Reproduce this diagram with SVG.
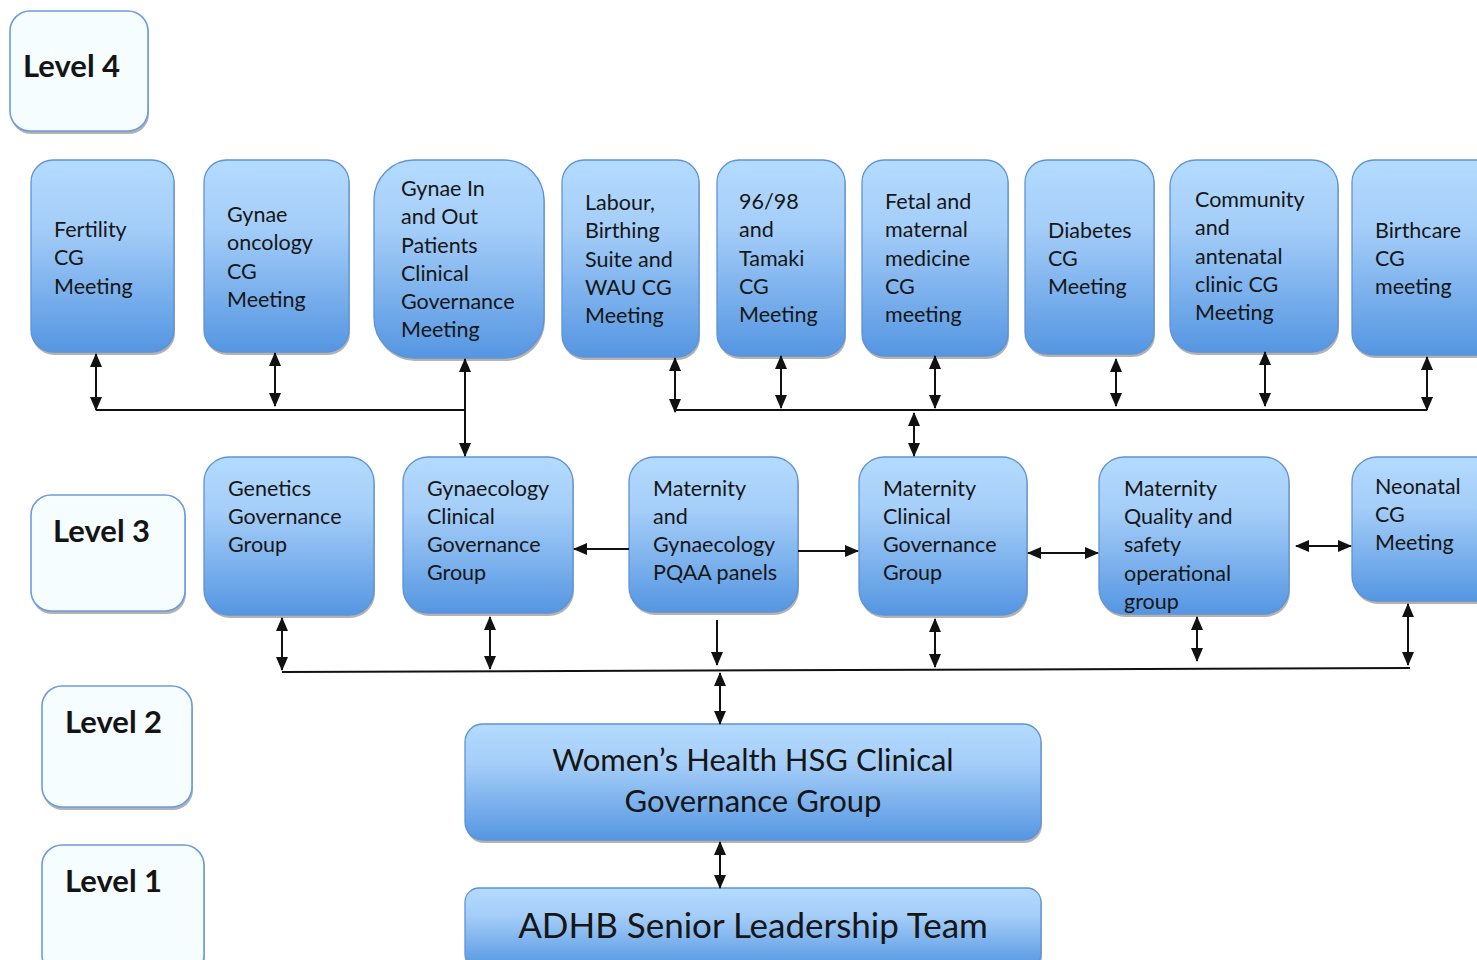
<svg xmlns="http://www.w3.org/2000/svg" width="1477" height="960" viewBox="0 0 1477 960">
  <defs>
    <linearGradient id="boxFill" x1="0" y1="0" x2="0" y2="1">
      <stop offset="0" stop-color="#b4dbff"/>
      <stop offset="0.35" stop-color="#a4cdf8"/>
      <stop offset="1" stop-color="#5596e2"/>
    </linearGradient>
    <marker id="head" viewBox="0 0 14 12" refX="13" refY="6" markerWidth="14" markerHeight="12" markerUnits="userSpaceOnUse" orient="auto-start-reverse">
      <path d="M0,0 L14,6 L0,12 z" fill="#111"/>
    </marker>
    <style>
      .box { fill: url(#boxFill); stroke: #5f93d6; stroke-width: 1.3; }
      .lvl { fill: #f5fdff; stroke: #6d9be0; stroke-width: 1.6; }
      .shadow { fill: #9a9a9a; opacity: 0.75; }
      .t { font-family: Lato, "Liberation Sans", sans-serif; font-size: 21.5px; fill: #161616; }
      .lt { font-family: Lato, "Liberation Sans", sans-serif; font-size: 31px; font-weight: 700; fill: #141414; }
      .big { font-family: Lato, "Liberation Sans", sans-serif; font-size: 31px; fill: #161616; text-anchor: middle; }
      .huge { font-family: Lato, "Liberation Sans", sans-serif; font-size: 35px; fill: #161616; text-anchor: middle; }
      .c { stroke: #111; stroke-width: 2; fill: none; }
      .d { marker-start: url(#head); marker-end: url(#head); }
      .e { marker-end: url(#head); }
    </style>
  </defs>

  <!-- level labels -->
  <g id="level4">
    <rect class="shadow" x="11" y="14" width="138" height="120" rx="20"/>
    <rect class="lvl" x="10" y="11" width="138" height="120" rx="20"/>
    <text class="lt" x="23" y="77">Level 4</text>
  </g>
  <g id="level3">
    <rect class="shadow" x="32" y="498" width="154" height="116" rx="20"/>
    <rect class="lvl" x="31" y="495" width="154" height="116" rx="20"/>
    <text class="lt" x="53" y="542">Level 3</text>
  </g>
  <g id="level2">
    <rect class="shadow" x="43" y="689" width="150" height="121" rx="20"/>
    <rect class="lvl" x="42" y="686" width="150" height="121" rx="20"/>
    <text class="lt" x="65" y="733">Level 2</text>
  </g>
  <g id="level1">
    <rect class="shadow" x="43" y="848" width="162" height="130" rx="20"/>
    <rect class="lvl" x="42" y="845" width="162" height="130" rx="20"/>
    <text class="lt" x="65" y="892">Level 1</text>
  </g>

  <!-- level 4 meetings -->
  <g id="fertility">
    <rect class="shadow" x="32" y="163" width="143" height="192" rx="22"/>
    <rect class="box" x="31" y="160" width="143" height="192" rx="22"/>
    <text class="t" x="54" y="237">Fertility</text>
    <text class="t" x="54" y="265">CG</text>
    <text class="t" x="54" y="294">Meeting</text>
  </g>
  <g id="gynae-oncology">
    <rect class="shadow" x="205" y="163" width="145" height="192" rx="22"/>
    <rect class="box" x="204" y="160" width="145" height="192" rx="22"/>
    <text class="t" x="227" y="222">Gynae</text>
    <text class="t" x="227" y="250">oncology</text>
    <text class="t" x="227" y="279">CG</text>
    <text class="t" x="227" y="307">Meeting</text>
  </g>
  <g id="gynae-in-out">
    <rect class="shadow" x="375" y="163" width="170" height="198" rx="40"/>
    <rect class="box" x="374" y="160" width="170" height="198" rx="40"/>
    <text class="t" x="401" y="196">Gynae In</text>
    <text class="t" x="401" y="224">and Out</text>
    <text class="t" x="401" y="253">Patients</text>
    <text class="t" x="401" y="281">Clinical</text>
    <text class="t" x="401" y="309">Governance</text>
    <text class="t" x="401" y="337">Meeting</text>
  </g>
  <g id="labour">
    <rect class="shadow" x="563" y="163" width="137" height="197" rx="22"/>
    <rect class="box" x="562" y="160" width="137" height="197" rx="22"/>
    <text class="t" x="585" y="210">Labour,</text>
    <text class="t" x="585" y="238">Birthing</text>
    <text class="t" x="585" y="267">Suite and</text>
    <text class="t" x="585" y="295">WAU CG</text>
    <text class="t" x="585" y="323">Meeting</text>
  </g>
  <g id="tamaki">
    <rect class="shadow" x="718" y="163" width="128" height="196" rx="22"/>
    <rect class="box" x="717" y="160" width="128" height="196" rx="22"/>
    <text class="t" x="739" y="209">96/98</text>
    <text class="t" x="739" y="237">and</text>
    <text class="t" x="739" y="266">Tamaki</text>
    <text class="t" x="739" y="294">CG</text>
    <text class="t" x="739" y="322">Meeting</text>
  </g>
  <g id="fetal-maternal">
    <rect class="shadow" x="863" y="163" width="146" height="196" rx="22"/>
    <rect class="box" x="862" y="160" width="146" height="196" rx="22"/>
    <text class="t" x="885" y="209">Fetal and</text>
    <text class="t" x="885" y="237">maternal</text>
    <text class="t" x="885" y="266">medicine</text>
    <text class="t" x="885" y="294">CG</text>
    <text class="t" x="885" y="322">meeting</text>
  </g>
  <g id="diabetes">
    <rect class="shadow" x="1026" y="163" width="129" height="194" rx="22"/>
    <rect class="box" x="1025" y="160" width="129" height="194" rx="22"/>
    <text class="t" x="1048" y="238">Diabetes</text>
    <text class="t" x="1048" y="266">CG</text>
    <text class="t" x="1048" y="294">Meeting</text>
  </g>
  <g id="community">
    <rect class="shadow" x="1171" y="163" width="168" height="192" rx="26"/>
    <rect class="box" x="1170" y="160" width="168" height="192" rx="26"/>
    <text class="t" x="1195" y="207">Community</text>
    <text class="t" x="1195" y="235">and</text>
    <text class="t" x="1195" y="264">antenatal</text>
    <text class="t" x="1195" y="292">clinic CG</text>
    <text class="t" x="1195" y="320">Meeting</text>
  </g>
  <g id="birthcare">
    <rect class="shadow" x="1353" y="163" width="150" height="195" rx="22"/>
    <rect class="box" x="1352" y="160" width="150" height="195" rx="22"/>
    <text class="t" x="1375" y="238">Birthcare</text>
    <text class="t" x="1375" y="266">CG</text>
    <text class="t" x="1375" y="294">meeting</text>
  </g>

  <!-- level 3 groups -->
  <g id="genetics">
    <rect class="shadow" x="205" y="460" width="170" height="158" rx="25"/>
    <rect class="box" x="204" y="457" width="170" height="158" rx="25"/>
    <text class="t" x="228" y="496">Genetics</text>
    <text class="t" x="228" y="524">Governance</text>
    <text class="t" x="228" y="552">Group</text>
  </g>
  <g id="gynaecology-cg">
    <rect class="shadow" x="404" y="460" width="170" height="156" rx="25"/>
    <rect class="box" x="403" y="457" width="170" height="156" rx="25"/>
    <text class="t" x="427" y="496">Gynaecology</text>
    <text class="t" x="427" y="524">Clinical</text>
    <text class="t" x="427" y="552">Governance</text>
    <text class="t" x="427" y="580">Group</text>
  </g>
  <g id="pqaa">
    <rect class="shadow" x="630" y="460" width="169" height="155" rx="25"/>
    <rect class="box" x="629" y="457" width="169" height="155" rx="25"/>
    <text class="t" x="653" y="496">Maternity</text>
    <text class="t" x="653" y="524">and</text>
    <text class="t" x="653" y="552">Gynaecology</text>
    <text class="t" x="653" y="580">PQAA panels</text>
  </g>
  <g id="maternity-cg">
    <rect class="shadow" x="860" y="460" width="168" height="158" rx="25"/>
    <rect class="box" x="859" y="457" width="168" height="158" rx="25"/>
    <text class="t" x="883" y="496">Maternity</text>
    <text class="t" x="883" y="524">Clinical</text>
    <text class="t" x="883" y="552">Governance</text>
    <text class="t" x="883" y="580">Group</text>
  </g>
  <g id="maternity-quality-safety">
    <rect class="shadow" x="1100" y="460" width="190" height="157" rx="25"/>
    <rect class="box" x="1099" y="457" width="190" height="157" rx="25"/>
    <text class="t" x="1124" y="496">Maternity</text>
    <text class="t" x="1124" y="524">Quality and</text>
    <text class="t" x="1124" y="552">safety</text>
    <text class="t" x="1124" y="581">operational</text>
    <text class="t" x="1124" y="609">group</text>
  </g>
  <g id="neonatal">
    <rect class="shadow" x="1353" y="460" width="150" height="144" rx="25"/>
    <rect class="box" x="1352" y="457" width="150" height="144" rx="25"/>
    <text class="t" x="1375" y="494">Neonatal</text>
    <text class="t" x="1375" y="522">CG</text>
    <text class="t" x="1375" y="550">Meeting</text>
  </g>

  <!-- level 2 and level 1 -->
  <g id="womens-health">
    <rect class="shadow" x="466" y="727" width="576" height="116" rx="18"/>
    <rect class="box" x="465" y="724" width="576" height="116" rx="18"/>
    <text class="big" x="753" y="771">Women’s Health HSG Clinical</text>
    <text class="big" x="753" y="812">Governance Group</text>
  </g>
  <g id="adhb-slt">
    <rect class="shadow" x="466" y="891" width="576" height="80" rx="14"/>
    <rect class="box" x="465" y="888" width="576" height="80" rx="14"/>
    <text class="huge" x="753" y="938">ADHB Senior Leadership Team</text>
  </g>

  <!-- connectors -->
  <g id="connectors">
    <!-- level 4 left bus -->
    <line class="c" x1="96" y1="410" x2="465" y2="410"/>
    <line class="c d" x1="96" y1="354" x2="96" y2="410"/>
    <line class="c d" x1="275" y1="353" x2="275" y2="406"/>
    <line class="c d" x1="465" y1="359" x2="465" y2="456"/>
    <!-- level 4 right bus -->
    <line class="c" x1="675" y1="410" x2="1427" y2="410"/>
    <line class="c d" x1="675" y1="358" x2="675" y2="412"/>
    <line class="c d" x1="781" y1="356" x2="781" y2="408"/>
    <line class="c d" x1="935" y1="356" x2="935" y2="408"/>
    <line class="c d" x1="1116" y1="359" x2="1116" y2="406"/>
    <line class="c d" x1="1265" y1="352" x2="1265" y2="406"/>
    <line class="c d" x1="1427" y1="357" x2="1427" y2="410"/>
    <line class="c d" x1="914" y1="413" x2="914" y2="456"/>
    <!-- level 3 links -->
    <line class="c e" x1="629" y1="549" x2="574" y2="549"/>
    <line class="c e" x1="798" y1="551" x2="858" y2="551"/>
    <line class="c d" x1="1028" y1="553" x2="1098" y2="553"/>
    <line class="c d" x1="1296" y1="546" x2="1351" y2="546"/>
    <!-- level 3 bus -->
    <line class="c" x1="282" y1="672" x2="1410" y2="668"/>
    <line class="c d" x1="282" y1="618" x2="282" y2="670"/>
    <line class="c d" x1="490" y1="617" x2="490" y2="669"/>
    <line class="c e" x1="717" y1="620" x2="717" y2="665"/>
    <line class="c d" x1="935" y1="619" x2="935" y2="667"/>
    <line class="c d" x1="1197" y1="617" x2="1197" y2="661"/>
    <line class="c d" x1="1408" y1="604" x2="1408" y2="665"/>
    <line class="c d" x1="720" y1="673" x2="720" y2="724"/>
    <!-- level 2 to level 1 -->
    <line class="c d" x1="720" y1="842" x2="720" y2="888"/>
  </g>
</svg>
